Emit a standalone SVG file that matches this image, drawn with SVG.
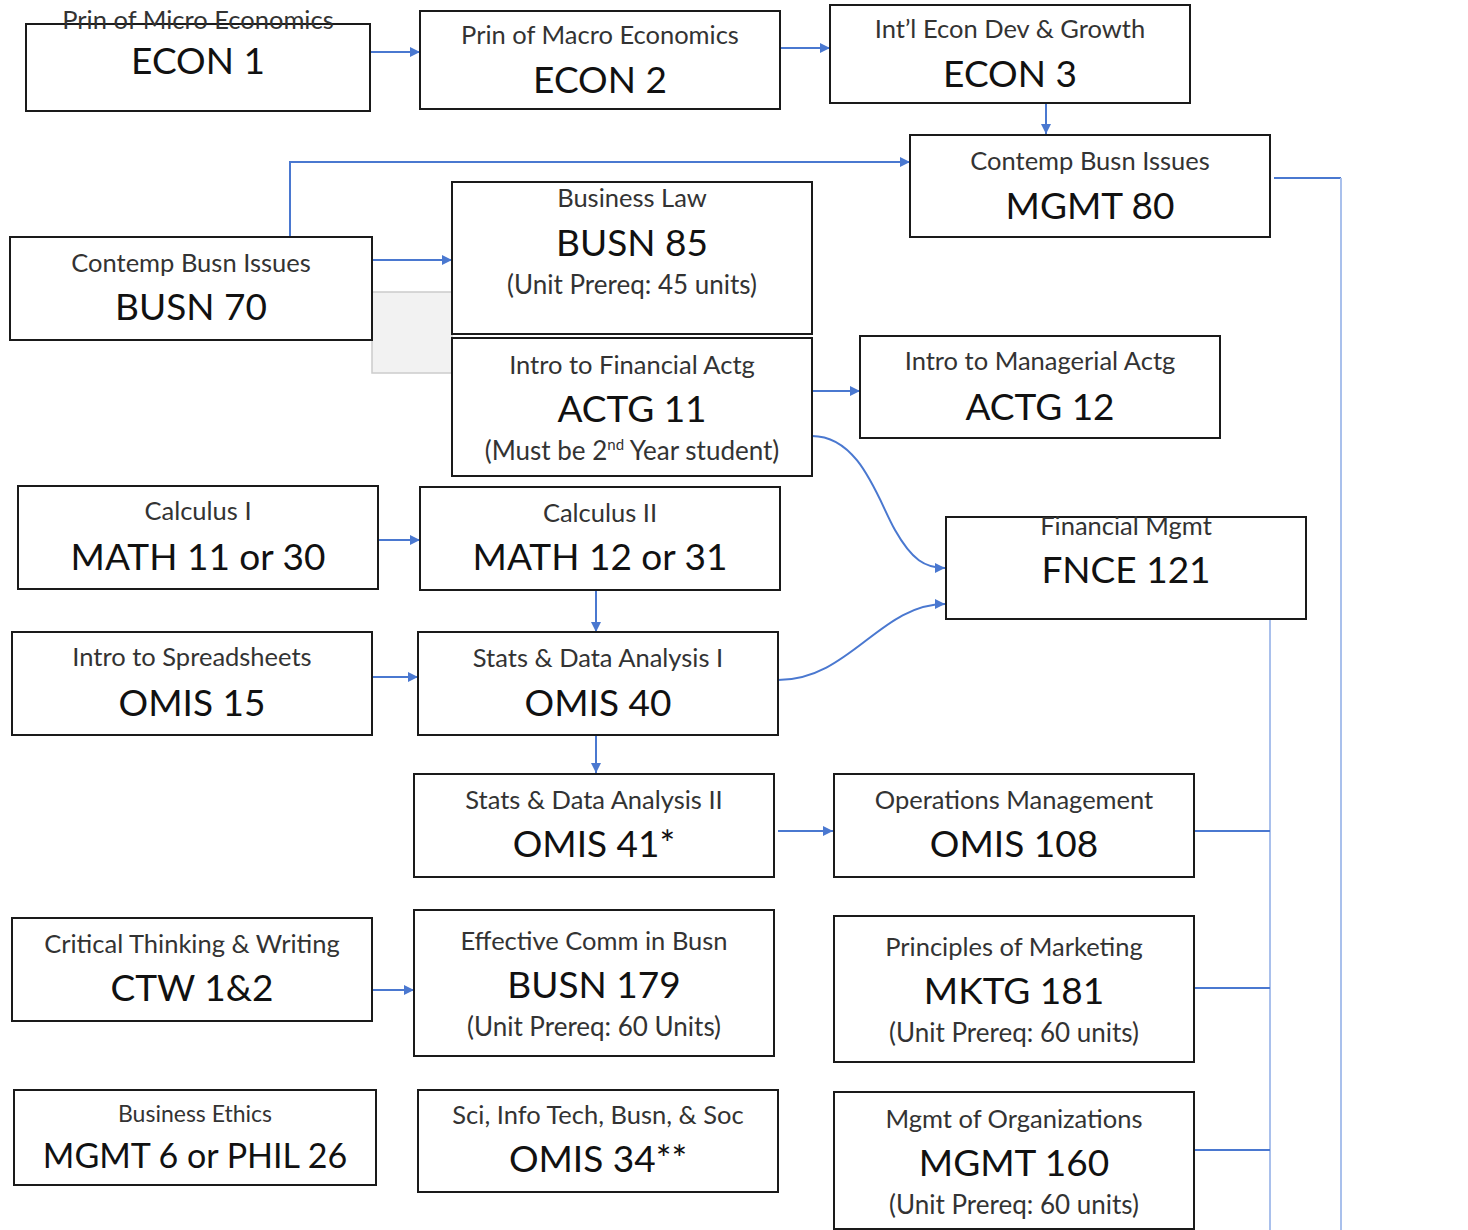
<svg xmlns="http://www.w3.org/2000/svg" width="1468" height="1230" viewBox="0 0 1468 1230">
<style>
.box{fill:#fff;stroke:#1a1a1a;stroke-width:2}
.t{font-family:Lato,"Liberation Sans",sans-serif;font-size:25.5px;fill:#333;text-anchor:middle}
.c{font-family:Lato,"Liberation Sans",sans-serif;font-size:37px;fill:#111;text-anchor:middle}
.s{font-family:Lato,"Liberation Sans",sans-serif;font-size:26px;fill:#333;text-anchor:middle}
.ln{fill:none;stroke:#4a78d0;stroke-width:2}
.lt{fill:none;stroke:#a9c0ec;stroke-width:2}
</style>
<defs>
<marker id="ah" viewBox="0 0 10 10" refX="10" refY="5" markerWidth="5" markerHeight="5" orient="auto" markerUnits="strokeWidth">
<path d="M0,0 L10,5 L0,10 z" fill="#4a78d0"/>
</marker>
</defs>
<rect width="1468" height="1230" fill="#fff"/>
<g id="connectors">
<line class="ln" x1="370" y1="52" x2="420" y2="52" marker-end="url(#ah)"/>
<line class="ln" x1="780" y1="48" x2="830" y2="48" marker-end="url(#ah)"/>
<line class="ln" x1="1046" y1="103" x2="1046" y2="134" marker-end="url(#ah)"/>
<polyline class="ln" points="290,237 290,162 910,162" marker-end="url(#ah)"/>
<polyline class="ln" points="1274,178 1341,178"/>
<line class="lt" x1="1341" y1="178" x2="1341" y2="1230"/>
<line class="ln" x1="372" y1="260" x2="452" y2="260" marker-end="url(#ah)"/>
<line class="ln" x1="812" y1="391" x2="860" y2="391" marker-end="url(#ah)"/>
<path class="ln" d="M812,436 C860,436 878,500 895,530 S925,568 945,568" marker-end="url(#ah)"/>
<path class="ln" d="M778,680 C850,680 880,604 945,604" marker-end="url(#ah)"/>
<line class="lt" x1="1270" y1="619" x2="1270" y2="1230"/>
<line class="ln" x1="378" y1="540" x2="420" y2="540" marker-end="url(#ah)"/>
<line class="ln" x1="596" y1="590" x2="596" y2="632" marker-end="url(#ah)"/>
<line class="ln" x1="372" y1="677" x2="418" y2="677" marker-end="url(#ah)"/>
<line class="ln" x1="596" y1="735" x2="596" y2="773" marker-end="url(#ah)"/>
<line class="ln" x1="778" y1="831" x2="833" y2="831" marker-end="url(#ah)"/>
<line class="ln" x1="1194" y1="831" x2="1270" y2="831"/>
<line class="ln" x1="372" y1="990" x2="414" y2="990" marker-end="url(#ah)"/>
<line class="ln" x1="1194" y1="988" x2="1270" y2="988"/>
<line class="ln" x1="1194" y1="1150" x2="1270" y2="1150"/>
</g>
<g id="grey-box"><rect x="372" y="292" width="80" height="81" fill="#f2f2f2" stroke="#cccccc" stroke-width="1.5"/></g>
<g id="econ1"><rect class="box" x="26" y="24" width="344" height="87"/><text class="t" x="198" y="29">Prin of Micro Economics</text><text class="c" x="198" y="74">ECON 1</text></g>
<g id="econ2"><rect class="box" x="420" y="11" width="360" height="98"/><text class="t" x="600" y="44">Prin of Macro Economics</text><text class="c" x="600" y="93">ECON 2</text></g>
<g id="econ3"><rect class="box" x="830" y="5" width="360" height="98"/><text class="t" x="1010" y="38">Int’l Econ Dev &amp; Growth</text><text class="c" x="1010" y="87">ECON 3</text></g>
<g id="mgmt80"><rect class="box" x="910" y="135" width="360" height="102"/><text class="t" x="1090" y="170">Contemp Busn Issues</text><text class="c" x="1090" y="219">MGMT 80</text></g>
<g id="busn70"><rect class="box" x="10" y="237" width="362" height="103"/><text class="t" x="191" y="272">Contemp Busn Issues</text><text class="c" x="191" y="320">BUSN 70</text></g>
<g id="busn85"><rect class="box" x="452" y="182" width="360" height="152"/><text class="t" x="632" y="207">Business Law</text><text class="c" x="632" y="256">BUSN 85</text><text class="s" x="632" y="294">(Unit Prereq: 45 units)</text></g>
<g id="actg11"><rect class="box" x="452" y="338" width="360" height="138"/><text class="t" x="632" y="374">Intro to Financial Actg</text><text class="c" x="632" y="422">ACTG 11</text><text class="s" x="632" y="460">(Must be 2<tspan style="font-size:15px" dy="-10">nd</tspan><tspan dy="10"> Year student)</tspan></text></g>
<g id="actg12"><rect class="box" x="860" y="336" width="360" height="102"/><text class="t" x="1040" y="370">Intro to Managerial Actg</text><text class="c" x="1040" y="420">ACTG 12</text></g>
<g id="fnce121"><rect class="box" x="946" y="517" width="360" height="102"/><text class="t" x="1126" y="535">Financial Mgmt</text><text class="c" x="1126" y="583">FNCE 121</text></g>
<g id="math11"><rect class="box" x="18" y="486" width="360" height="103"/><text class="t" x="198" y="520">Calculus I</text><text class="c" x="198" y="570">MATH 11 or 30</text></g>
<g id="math12"><rect class="box" x="420" y="487" width="360" height="103"/><text class="t" x="600" y="522">Calculus II</text><text class="c" x="600" y="570">MATH 12 or 31</text></g>
<g id="omis15"><rect class="box" x="12" y="632" width="360" height="103"/><text class="t" x="192" y="666">Intro to Spreadsheets</text><text class="c" x="192" y="716">OMIS 15</text></g>
<g id="omis40"><rect class="box" x="418" y="632" width="360" height="103"/><text class="t" x="598" y="667">Stats &amp; Data Analysis I</text><text class="c" x="598" y="716">OMIS 40</text></g>
<g id="omis41"><rect class="box" x="414" y="774" width="360" height="103"/><text class="t" x="594" y="809">Stats &amp; Data Analysis II</text><text class="c" x="594" y="857">OMIS 41*</text></g>
<g id="omis108"><rect class="box" x="834" y="774" width="360" height="103"/><text class="t" x="1014" y="809">Operations Management</text><text class="c" x="1014" y="857">OMIS 108</text></g>
<g id="ctw"><rect class="box" x="12" y="918" width="360" height="103"/><text class="t" x="192" y="953">Critical Thinking &amp; Writing</text><text class="c" x="192" y="1001">CTW 1&amp;2</text></g>
<g id="busn179"><rect class="box" x="414" y="910" width="360" height="146"/><text class="t" x="594" y="950">Effective Comm in Busn</text><text class="c" x="594" y="998">BUSN 179</text><text class="s" x="594" y="1036">(Unit Prereq: 60 Units)</text></g>
<g id="mktg181"><rect class="box" x="834" y="916" width="360" height="146"/><text class="t" x="1014" y="956">Principles of Marketing</text><text class="c" x="1014" y="1004">MKTG 181</text><text class="s" x="1014" y="1042">(Unit Prereq: 60 units)</text></g>
<g id="mgmt6"><rect class="box" x="14" y="1090" width="362" height="95"/><text class="t" x="195" y="1122" style="font-size:23px">Business Ethics</text><text class="c" x="195" y="1168" style="font-size:34px">MGMT 6 or PHIL 26</text></g>
<g id="omis34"><rect class="box" x="418" y="1090" width="360" height="102"/><text class="t" x="598" y="1124">Sci, Info Tech, Busn, &amp; Soc</text><text class="c" x="598" y="1172">OMIS 34**</text></g>
<g id="mgmt160"><rect class="box" x="834" y="1092" width="360" height="137"/><text class="t" x="1014" y="1128">Mgmt of Organizations</text><text class="c" x="1014" y="1176">MGMT 160</text><text class="s" x="1014" y="1214">(Unit Prereq: 60 units)</text></g>
</svg>
